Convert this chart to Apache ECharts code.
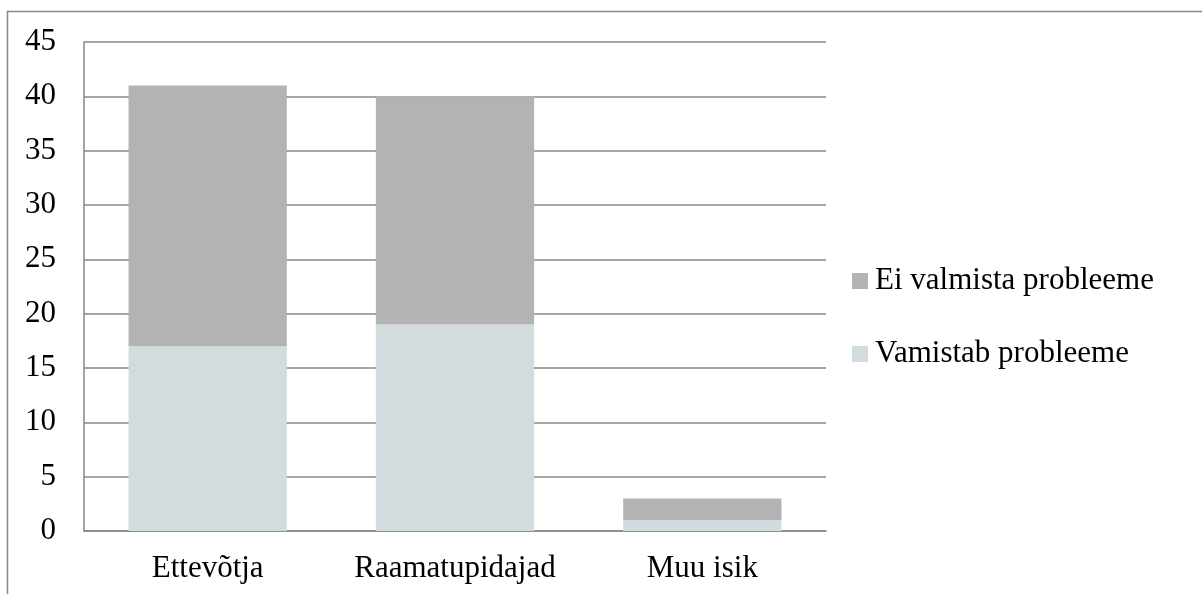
<!DOCTYPE html>
<html>
<head>
<meta charset="utf-8">
<script src="https://cdn.jsdelivr.net/npm/echarts@6/dist/echarts.min.js"></script>
<style>
  html, body { margin: 0; padding: 0; background: #ffffff; }
  #chart { width: 1202px; height: 594px; }
</style>
</head>
<body>
<div id="chart"></div>
<script>
// Categories and stacked values
const categories = ['Ettevõtja', 'Raamatupidajad', 'Muu isik'];
const vamistab = [17, 19, 1];     // Vamistab probleeme (bottom)
const eiValmista = [24, 21, 2];   // Ei valmista probleeme (stacked on top)
const yTicks = { min: 0, max: 45, interval: 5 };

const serif = '"Liberation Serif", "DejaVu Serif", serif';
const lineGray = '#878787';
const fontPx = 31;

const chart = echarts.init(document.getElementById('chart'), null, { renderer: 'canvas' });

chart.setOption({
  backgroundColor: '#ffffff',
  animation: false,
  graphic: [{
    type: 'rect',
    shape: { x: 7.5, y: 11.5, width: 1400, height: 800 },
    style: { fill: 'none', stroke: lineGray, lineWidth: 1.5 },
    silent: true
  }],
  grid: { left: 84, top: 42, right: 376, bottom: 63, containLabel: false },
  legend: {
    orient: 'vertical',
    left: 847,
    top: 259,
    itemWidth: 16,
    itemHeight: 16,
    itemGap: 39,
    icon: 'rect',
    data: ['Ei valmista probleeme', 'Vamistab probleeme'],
    textStyle: { fontFamily: serif, fontSize: fontPx, color: '#000', lineHeight: 34, padding: [0, 0, 0, 2] }
  },
  xAxis: {
    type: 'category',
    data: categories,
    axisLine: { show: true, lineStyle: { color: lineGray, width: 1.5 } },
    axisTick: { show: false },
    axisLabel: { fontFamily: serif, fontSize: fontPx, color: '#000', margin: 22, interval: 0, hideOverlap: false }
  },
  yAxis: {
    type: 'value',
    min: yTicks.min,
    max: yTicks.max,
    interval: yTicks.interval,
    axisLine: { show: true, lineStyle: { color: lineGray, width: 1.5 } },
    axisTick: { show: false },
    splitLine: { show: true, lineStyle: { color: lineGray, width: 1.5 } },
    axisLabel: { fontFamily: serif, fontSize: fontPx, color: '#000', margin: 28 }
  },
  series: [
    {
      name: 'Vamistab probleeme',
      type: 'bar',
      stack: 'total',
      data: vamistab,
      barCategoryGap: '36%',
      itemStyle: { color: '#d2dbde' }
    },
    {
      name: 'Ei valmista probleeme',
      type: 'bar',
      stack: 'total',
      data: eiValmista,
      barCategoryGap: '36%',
      itemStyle: { color: '#b3b3b3' }
    }
  ]
});
</script>
</body>
</html>
